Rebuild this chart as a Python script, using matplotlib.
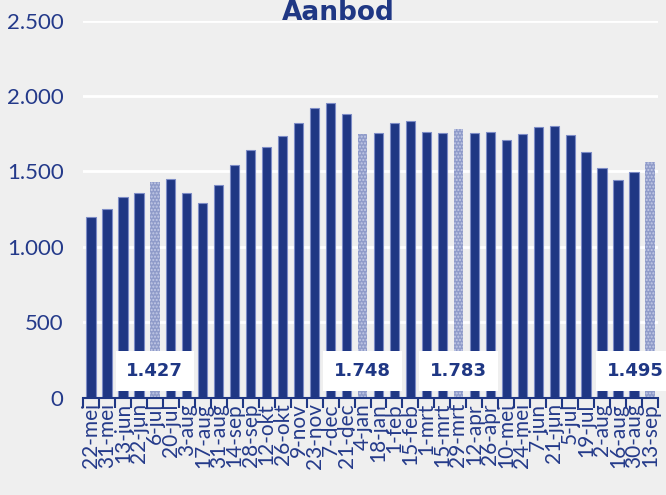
import matplotlib
matplotlib.use("Agg")
import matplotlib.pyplot as plt
from matplotlib import font_manager
import numpy as np

categories = ["22-mei", "31-mei", "13-jun", "22-jun", "6-jul", "20-jul", "3-aug", "17-aug",
              "31-aug", "14-sep", "28-sep", "12-okt", "26-okt", "9-nov", "23-nov", "7-dec",
              "21-dec", "4-jan", "18-jan", "1-feb", "15-feb", "1-mrt", "15-mrt", "29-mrt",
              "12-apr", "26-apr", "10-mei", "24-mei", "7-jun", "21-jun", "5-jul", "19-jul",
              "2-aug", "16-aug", "30-aug", "13-sep"]
values = [1200, 1249, 1330, 1356, 1427, 1448, 1356, 1289, 1410, 1541, 1641, 1661,
          1738, 1822, 1919, 1955, 1884, 1748, 1758, 1819, 1832, 1765, 1758, 1783,
          1756, 1761, 1712, 1747, 1792, 1805, 1745, 1632, 1522, 1446, 1499, 1561]
highlight_idx = [4, 17, 23, 35]
highlight_labels = ["1.427", "1.748", "1.783", "1.495"]
yticks = [0, 500, 1000, 1500, 2000, 2500]
ytick_labels = ["0", "500", "1.000", "1.500", "2.000", "2.500"]
title = "Aanbod"

BG = "#EFEFEF"
DARK = "#1F3784"
TXT = "#243A8A"
LIGHT = "#8F9BC9"

label_family = "Lato" if any(f.name == "Lato" for f in font_manager.fontManager.ttflist) \
    else "DejaVu Sans"

fig = plt.figure(figsize=(6.66, 4.95), dpi=100, facecolor=BG)
ax = fig.add_axes([83/666, 1-397.5/495, (658-83)/666, (397.5-20.8)/495])
ax.set_facecolor(BG)

n = len(categories)
x = np.arange(n)
for i, v in enumerate(values):
    if i in highlight_idx:
        ax.bar(i, v, width=0.58, color=LIGHT, edgecolor="#C3CAE6", linewidth=0,
               hatch=".....", zorder=3)
    else:
        ax.bar(i, v, width=0.58, color=DARK, edgecolor="#7D8CC6", linewidth=0.8, zorder=3)

ax.set_xlim(-0.5, n - 0.5)
ax.set_ylim(0, 2500)
ax.set_yticks(yticks)
ax.set_yticklabels(ytick_labels, fontsize=16, color=TXT, family=label_family)
ax.tick_params(axis="y", length=0, pad=14)
ax.yaxis.grid(True, color="white", linewidth=2, zorder=0)
ax.set_axisbelow(True)

for s in ["top", "right", "left"]:
    ax.spines[s].set_visible(False)
ax.spines["bottom"].set_color(DARK)
ax.spines["bottom"].set_linewidth(1.5)
ax.spines["bottom"].set_zorder(4)

ax.set_xticks(x)
ax.set_xticklabels(categories, rotation=90, fontsize=15, color=TXT, family=label_family)
ax.tick_params(axis="x", which="major", length=0, pad=4)
ax.set_xticks(np.arange(-0.5, n, 1), minor=True)
ax.tick_params(axis="x", which="minor", length=7, width=1.5, color=DARK)

for i, lab in zip(highlight_idx, highlight_labels):
    xpos = min(i, n - 1.9)
    ax.text(xpos, 175, lab, ha="center", va="center", fontsize=13, fontweight="bold",
            color=DARK, zorder=5, clip_on=False,
            bbox=dict(boxstyle="square,pad=0.6", facecolor="white", edgecolor="none"))

fig.text(338/666, 1-20/495, title, ha="center", va="baseline", fontsize=19,
         fontweight="bold", color=DARK)

fig.savefig("out.png", dpi=100, facecolor=BG)
